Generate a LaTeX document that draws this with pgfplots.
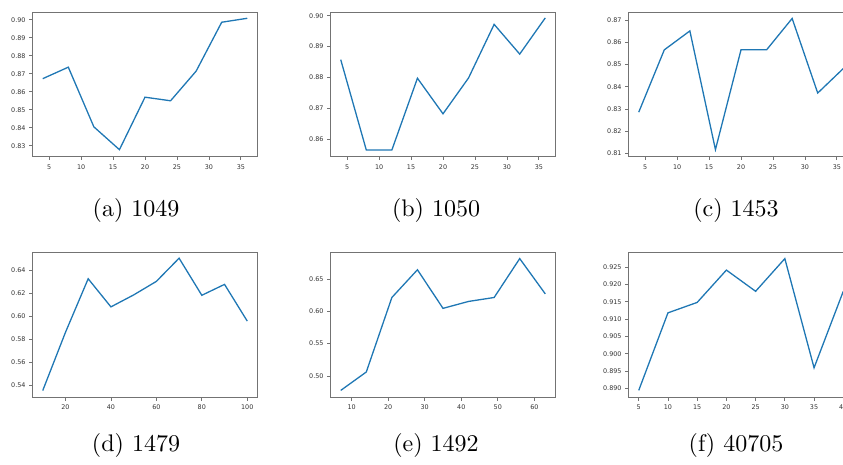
\documentclass[border=0pt]{standalone}
\usepackage{pgfplots}
\pgfplotsset{compat=1.18}
\usepackage{fontspec}
\usepackage{graphicx}
\newfontfamily\tickfont{DejaVu Sans}
\definecolor{mplblue}{HTML}{1F77B4}

\pgfplotsset{
  sub/.style={
    scale only axis, anchor=south west,
    width=225pt, height=144.5pt,
    axis line style={black!55, line width=0.8pt},
    tick align=outside, tick pos=left,
    major tick length=3.5pt,
    tick style={black!55, line width=0.8pt},
    /pgf/number format/assume math mode=true,
    ticklabel style={font=\tickfont\fontsize{6.4}{7}\selectfont, text=black!80},
    yticklabel style={/pgf/number format/.cd, fixed, fixed zerofill, precision=2},
    xticklabel style={yshift=-1pt},
    scaled ticks=false,
  },
  line/.style={mplblue, line width=1.3pt, mark=none},
}

\begin{document}
\begin{tikzpicture}
\useasboundingbox (0,0) rectangle (843pt,464pt);
\clip (0,0) rectangle (843pt,464pt);

% (a) 1049
\begin{axis}[sub, at={(32.5pt,307.5pt)},
  xmin=2.4, xmax=37.6, ymin=0.8240, ymax=0.9044,
  xtick={5,10,...,35}, ytick={0.83,0.84,...,0.905}]
\addplot[line] coordinates {(4,0.8673)(8,0.8737)(12,0.8405)(16,0.8278)(20,0.8570)(24,0.8550)(28,0.8715)(32,0.8987)(36,0.9009)};
\end{axis}

% (b) 1050
\begin{axis}[sub, at={(330.5pt,307.5pt)},
  xmin=2.4, xmax=37.6, ymin=0.8545, ymax=0.9012,
  xtick={5,10,...,35}, ytick={0.86,0.87,...,0.905}]
\addplot[line] coordinates {(4,0.8858)(8,0.8566)(12,0.8566)(16,0.8798)(20,0.8683)(24,0.8799)(28,0.8972)(32,0.8876)(36,0.8993)};
\end{axis}

% (c) 1453
\begin{axis}[sub, at={(628.5pt,307.5pt)},
  xmin=2.4, xmax=37.6, ymin=0.8087, ymax=0.8736,
  xtick={5,10,...,35}, ytick={0.81,0.82,...,0.875}]
\addplot[line] coordinates {(4,0.8286)(8,0.8566)(12,0.8651)(16,0.8118)(20,0.8566)(24,0.8566)(28,0.8707)(32,0.8372)(36,0.8482)};
\end{axis}

% (d) 1479
\begin{axis}[sub, at={(32.5pt,67pt)}, height=145pt,
  xmin=5.5, xmax=104.5, ymin=0.5295, ymax=0.6558,
  xtick={20,40,...,100}, ytick={0.54,0.56,...,0.645}]
\addplot[line] coordinates {(10,0.5351)(20,0.5858)(30,0.6325)(40,0.6080)(50,0.6184)(60,0.6302)(70,0.6504)(80,0.6181)(90,0.6276)(100,0.5956)};
\end{axis}

% (e) 1492
\begin{axis}[sub, at={(330.5pt,67pt)}, height=145pt,
  xmin=4.2, xmax=65.8, ymin=0.4674, ymax=0.6918,
  xtick={10,20,...,60}, ytick={0.50,0.55,...,0.66}]
\addplot[line] coordinates {(7,0.4776)(14,0.5061)(21,0.6214)(28,0.6643)(35,0.6046)(42,0.6153)(49,0.6214)(56,0.6816)(63,0.6270)};
\end{axis}

% (f) 40705
\begin{axis}[sub, at={(628.5pt,67pt)}, height=145pt,
  xmin=3.25, xmax=41.75, ymin=0.8876, ymax=0.9293,
  xtick={5,10,...,40}, ytick={0.890,0.895,...,0.926},
  yticklabel style={/pgf/number format/precision=3}]
\addplot[line] coordinates {(5,0.8895)(10,0.9118)(15,0.9148)(20,0.9241)(25,0.9180)(30,0.9274)(35,0.8960)(40,0.9180)};
\end{axis}

% captions
\node[anchor=base] at (136pt,247.3pt) {\scalebox{2.4}{(a) 1049}};
\node[anchor=base] at (436pt,247.3pt) {\scalebox{2.4}{(b) 1050}};
\node[anchor=base] at (736pt,247.3pt) {\scalebox{2.4}{(c) 1453}};
\node[anchor=base] at (136pt,12.3pt) {\scalebox{2.4}{(d) 1479}};
\node[anchor=base] at (436pt,12.3pt) {\scalebox{2.4}{(e) 1492}};
\node[anchor=base] at (736pt,12.3pt) {\scalebox{2.4}{(f) 40705}};
\end{tikzpicture}
\end{document}
